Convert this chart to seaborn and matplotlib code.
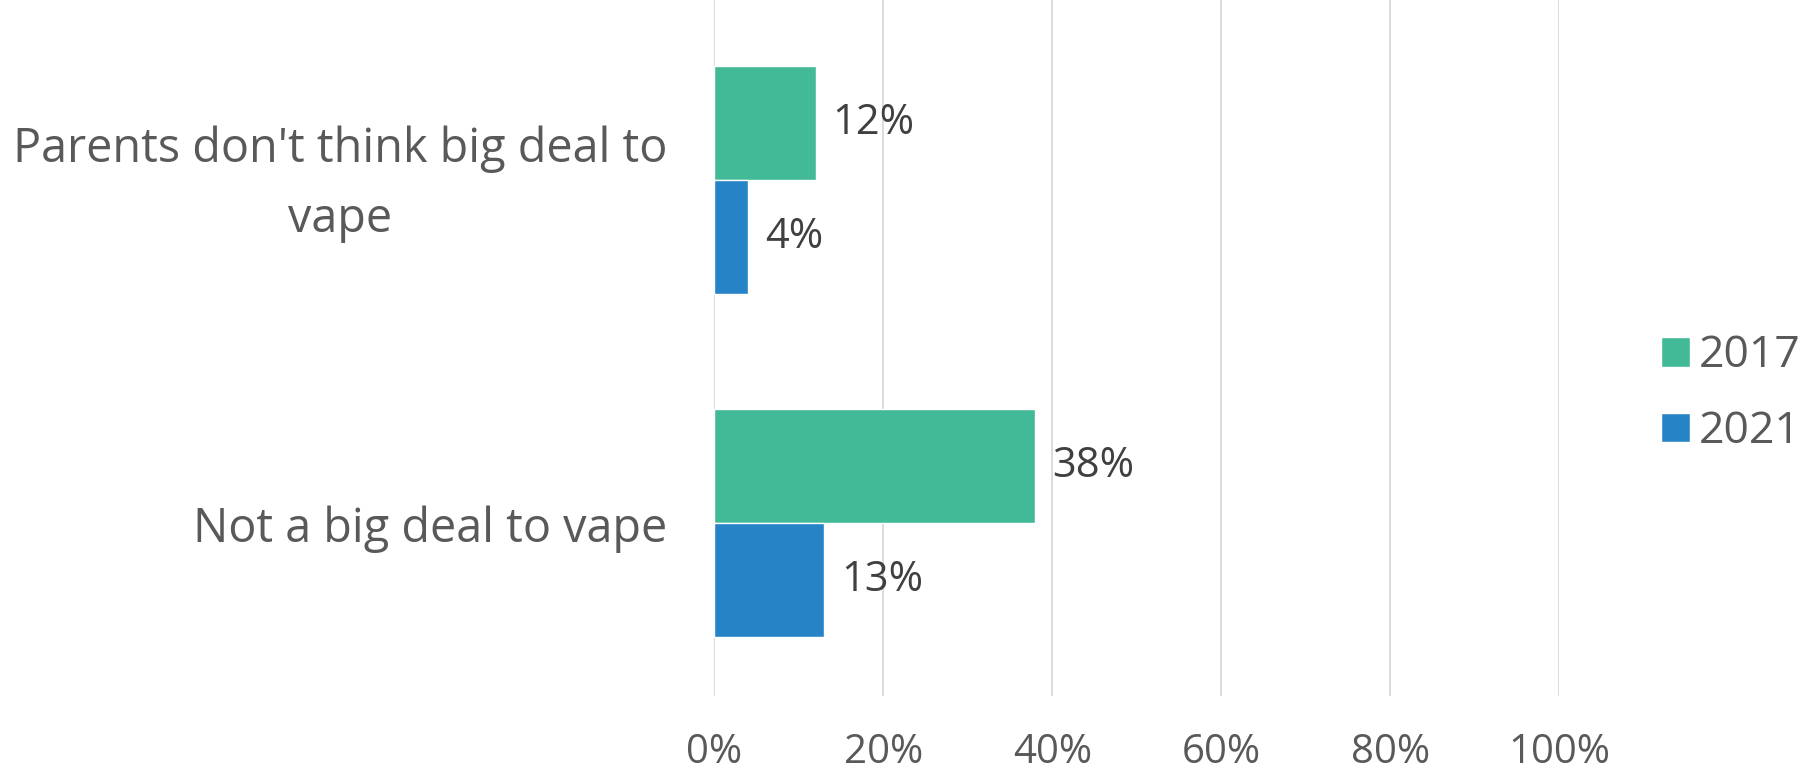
import matplotlib
matplotlib.use("Agg")
import matplotlib.pyplot as plt
import matplotlib.transforms as mtransforms
import pandas as pd
import seaborn as sns

# chart data
categories = ["Parents don't think big deal to\nvape", "Not a big deal to vape"]
years = ["2017", "2021"]
values_2017 = [0.12, 0.38]
values_2021 = [0.04, 0.13]
x_ticks = [0, 0.2, 0.4, 0.6, 0.8, 1.0]
x_tick_labels = ["0%", "20%", "40%", "60%", "80%", "100%"]
colors = ["#43BA97", "#2683C6"]

df = pd.DataFrame({
    "category": categories * 2,
    "year": [years[0]] * 2 + [years[1]] * 2,
    "value": values_2017 + values_2021,
})

sns.set_style("white")
plt.rcParams["font.family"] = ["Open Sans", "DejaVu Sans"]

fig = plt.figure(figsize=(18.13, 7.77), dpi=100)
ax = fig.add_axes([0.394, 0.104, 0.466, 0.896])

sns.barplot(data=df, y="category", x="value", hue="year", order=categories,
            hue_order=years, palette=colors, width=0.665, orient="h",
            saturation=1, ax=ax, legend=True)

ax.set_xlim(0, 1.0)
ax.set_ylim(1.504, -0.525)
ax.set_xticks(x_ticks)
ax.set_xticklabels(x_tick_labels)
ax.xaxis.grid(True, color="#d9d9d9", linewidth=1.3)
ax.set_axisbelow(True)
for s in ax.spines.values():
    s.set_visible(False)
ax.tick_params(axis="x", length=0, pad=26, labelsize=29, labelcolor="#595959")
ax.tick_params(axis="y", length=0, pad=34, labelsize=33.7, labelcolor="#595959")
for t in ax.get_yticklabels():
    t.set_multialignment("center")
    t.set_linespacing(1.6)
    if "\n" in t.get_text():
        # two-line label sits a bit higher, like the original
        t.set_transform(t.get_transform() +
                        mtransforms.ScaledTranslation(0, 9 / 72, fig.dpi_scale_trans))
ax.set_xlabel("")
ax.set_ylabel("")

# data labels
for cont in ax.containers:
    ax.bar_label(cont, labels=[f"{v*100:.0f}%" for v in cont.datavalues],
                 padding=12, fontsize=30, color="#404040")

ax.legend(loc="center left", bbox_to_anchor=(1.12, 0.434), frameon=False,
          borderpad=0, borderaxespad=0,
          fontsize=32, labelcolor="#595959", handlelength=0.66, handleheight=0.66,
          handletextpad=0.2, labelspacing=0.7)

fig.savefig("out.png", dpi=100)
